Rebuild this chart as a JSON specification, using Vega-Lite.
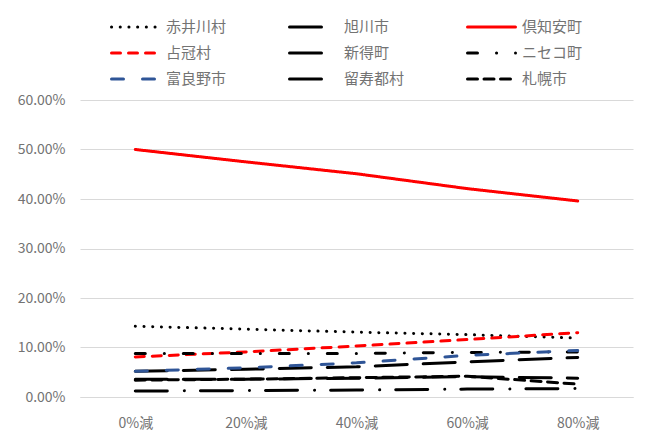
{
  "$schema": "https://vega.github.io/schema/vega-lite/v6.json",
  "width": 553,
  "height": 297,
  "autosize": {"type": "none"},
  "padding": {"left": 80, "top": 100, "right": 32, "bottom": 44},
  "background": "white",
  "config": {
    "font": "Noto Sans CJK JP",
    "view": {"stroke": null}
  },
  "data": {
    "values": [
      {"s": "赤井川村", "x": "0%減", "v": 0.143},
      {"s": "赤井川村", "x": "20%減", "v": 0.137},
      {"s": "赤井川村", "x": "40%減", "v": 0.131},
      {"s": "赤井川村", "x": "60%減", "v": 0.126},
      {"s": "赤井川村", "x": "80%減", "v": 0.119},
      {"s": "旭川市", "x": "0%減", "v": 0.012},
      {"s": "旭川市", "x": "20%減", "v": 0.013},
      {"s": "旭川市", "x": "40%減", "v": 0.014},
      {"s": "旭川市", "x": "60%減", "v": 0.016},
      {"s": "旭川市", "x": "80%減", "v": 0.017},
      {"s": "倶知安町", "x": "0%減", "v": 0.500},
      {"s": "倶知安町", "x": "20%減", "v": 0.475},
      {"s": "倶知安町", "x": "40%減", "v": 0.451},
      {"s": "倶知安町", "x": "60%減", "v": 0.421},
      {"s": "倶知安町", "x": "80%減", "v": 0.396},
      {"s": "占冠村", "x": "0%減", "v": 0.081},
      {"s": "占冠村", "x": "20%減", "v": 0.091},
      {"s": "占冠村", "x": "40%減", "v": 0.103},
      {"s": "占冠村", "x": "60%減", "v": 0.116},
      {"s": "占冠村", "x": "80%減", "v": 0.130},
      {"s": "新得町", "x": "0%減", "v": 0.052},
      {"s": "新得町", "x": "20%減", "v": 0.056},
      {"s": "新得町", "x": "40%減", "v": 0.061},
      {"s": "新得町", "x": "60%減", "v": 0.071},
      {"s": "新得町", "x": "80%減", "v": 0.080},
      {"s": "ニセコ町", "x": "0%減", "v": 0.088},
      {"s": "ニセコ町", "x": "20%減", "v": 0.088},
      {"s": "ニセコ町", "x": "40%減", "v": 0.088},
      {"s": "ニセコ町", "x": "60%減", "v": 0.090},
      {"s": "ニセコ町", "x": "80%減", "v": 0.091},
      {"s": "富良野市", "x": "0%減", "v": 0.052},
      {"s": "富良野市", "x": "20%減", "v": 0.059},
      {"s": "富良野市", "x": "40%減", "v": 0.069},
      {"s": "富良野市", "x": "60%減", "v": 0.084},
      {"s": "富良野市", "x": "80%減", "v": 0.094},
      {"s": "留寿都村", "x": "0%減", "v": 0.036},
      {"s": "留寿都村", "x": "20%減", "v": 0.036},
      {"s": "留寿都村", "x": "40%減", "v": 0.038},
      {"s": "留寿都村", "x": "60%減", "v": 0.041},
      {"s": "留寿都村", "x": "80%減", "v": 0.038},
      {"s": "札幌市", "x": "0%減", "v": 0.034},
      {"s": "札幌市", "x": "20%減", "v": 0.036},
      {"s": "札幌市", "x": "40%減", "v": 0.039},
      {"s": "札幌市", "x": "60%減", "v": 0.042},
      {"s": "札幌市", "x": "80%減", "v": 0.026}
    ]
  },
  "mark": {"type": "line", "strokeWidth": 3, "strokeCap": "round", "strokeJoin": "round"},
  "encoding": {
    "x": {
      "field": "x",
      "type": "ordinal",
      "sort": ["0%減", "20%減", "40%減", "60%減", "80%減"],
      "scale": {"type": "point", "padding": 0.5},
      "axis": {
        "title": null,
        "labelAngle": 0,
        "ticks": false,
        "domain": true,
        "domainColor": "#d9d9d9",
        "domainWidth": 1,
        "labelColor": "#737373",
        "labelFontSize": 14,
        "labelPadding": 19,
        "grid": false
      }
    },
    "y": {
      "field": "v",
      "type": "quantitative",
      "scale": {"domain": [0, 0.6], "nice": false},
      "axis": {
        "title": null,
        "values": [0, 0.1, 0.2, 0.3, 0.4, 0.5, 0.6],
        "format": ".2%",
        "ticks": false,
        "domain": false,
        "grid": true,
        "gridColor": "#d9d9d9",
        "gridWidth": 1,
        "labelColor": "#737373",
        "labelFontSize": 14,
        "labelPadding": 15
      }
    },
    "color": {
      "field": "s",
      "type": "nominal",
      "scale": {
        "domain": ["赤井川村", "占冠村", "富良野市", "旭川市", "新得町", "留寿都村", "倶知安町", "ニセコ町", "札幌市"],
        "range": ["#000000", "#ff0000", "#2f5597", "#000000", "#000000", "#000000", "#ff0000", "#000000", "#000000"]
      },
      "legend": {
        "title": null,
        "orient": "none",
        "legendX": 30,
        "legendY": -81,
        "columns": 3,
        "symbolType": "stroke",
        "symbolSize": 2304,
        "symbolStrokeWidth": 3,
        "labelFontSize": 15,
        "labelColor": "#737373",
        "labelOffset": 5,
        "columnPadding": 61,
        "rowPadding": 10,
        "clipHeight": 16,
        "gridAlign": "each",
        "encode": {"symbols": {"update": {"strokeCap": {"value": "round"}}}}
      }
    },
    "strokeDash": {
      "field": "s",
      "type": "nominal",
      "scale": {
        "domain": ["赤井川村", "占冠村", "富良野市", "旭川市", "新得町", "留寿都村", "倶知安町", "ニセコ町", "札幌市"],
        "range": [[0.1, 8.6], [9, 8], [12, 19], [32, 17, 0.1, 16], [32, 16], [32, 16], [1, 0], [10, 19, 0.1, 18.9], [10, 6.5]]
      },
      "legend": {
        "title": null,
        "orient": "none",
        "legendX": 30,
        "legendY": -81,
        "columns": 3,
        "symbolType": "stroke",
        "symbolSize": 2304,
        "symbolStrokeWidth": 3,
        "labelFontSize": 15,
        "labelColor": "#737373",
        "labelOffset": 5,
        "columnPadding": 61,
        "rowPadding": 10,
        "clipHeight": 16,
        "gridAlign": "each",
        "encode": {"symbols": {"update": {"strokeCap": {"value": "round"}}}}
      }
    }
  }
}
